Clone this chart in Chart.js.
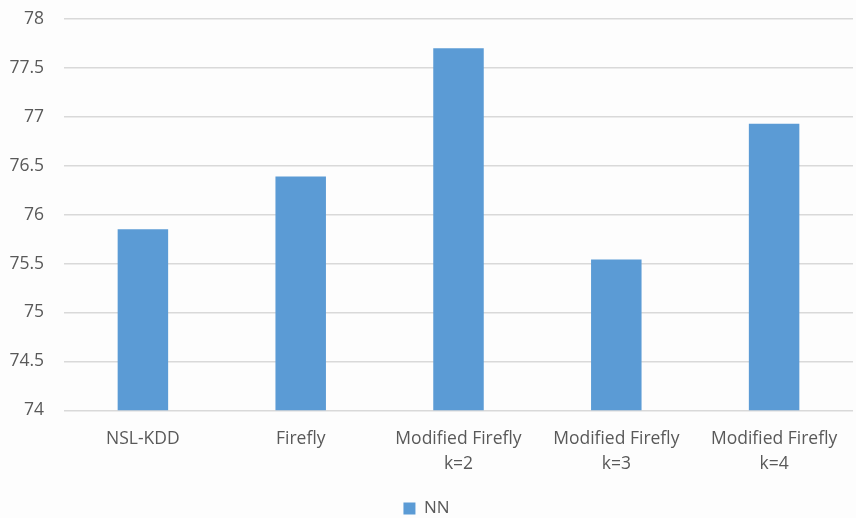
<!DOCTYPE html>
<html>
<head>
<meta charset="utf-8">
<script src="https://cdn.jsdelivr.net/npm/chart.js@4"></script>
<style>
  html, body { margin: 0; padding: 0; background: #fdfdfd; }
  #wrap { width: 856px; height: 518px; }
</style>
</head>
<body>
<div id="wrap"><canvas id="chart" width="856" height="518"></canvas></div>
<script>
// values
const categories = [
    'NSL-KDD',
    'Firefly',
    ['Modified Firefly', 'k=2'],
    ['Modified Firefly', 'k=3'],
    ['Modified Firefly', 'k=4']
];
const nnValues = [75.85, 76.39, 77.7, 75.54, 76.93];
const yMin = 74;
const yMax = 78;
const yStep = 0.5;

const ctx = document.getElementById('chart').getContext('2d');
const chart = new Chart(ctx, {
    type: 'bar',
    data: {
        labels: categories,
        datasets: [{
            label: 'NN',
            data: nnValues,
            backgroundColor: '#5b9bd5',
            borderWidth: 0
        }]
    },
    options: {
        responsive: false,
        animation: false,
        layout: { padding: { top: 19, right: 3, left: 0, bottom: -9 } },
        datasets: { bar: { barPercentage: 0.32, categoryPercentage: 1 } },
        plugins: {
            legend: {
                position: 'bottom',
                labels: {
                    boxWidth: 12,
                    boxHeight: 12,
                    padding: 15,
                    color: '#595959',
                    font: { family: 'Open Sans', size: 17 }
                }
            },
            tooltip: { enabled: false }
        },
        scales: {
            x: {
                grid: { display: false },
                border: { display: false },
                ticks: {
                    color: '#595959',
                    padding: 8,
                    maxRotation: 0,
                    font: { family: 'Open Sans', size: 17.5, lineHeight: 1.45 }
                }
            },
            y: {
                min: yMin,
                max: yMax,
                afterFit: (scale) => {
                    scale.width = 64;
                    scale.paddingTop = 0;
                    scale.paddingBottom = 0;
                },
                grid: { color: '#d9d9d9', lineWidth: 1.5, drawTicks: false },
                border: { display: false },
                ticks: {
                    stepSize: yStep,
                    padding: 20,
                    color: '#595959',
                    font: { family: 'Open Sans', size: 17.5 },
                    callback: (v) => String(v)
                }
            }
        }
    }
});
</script>
</body>
</html>
